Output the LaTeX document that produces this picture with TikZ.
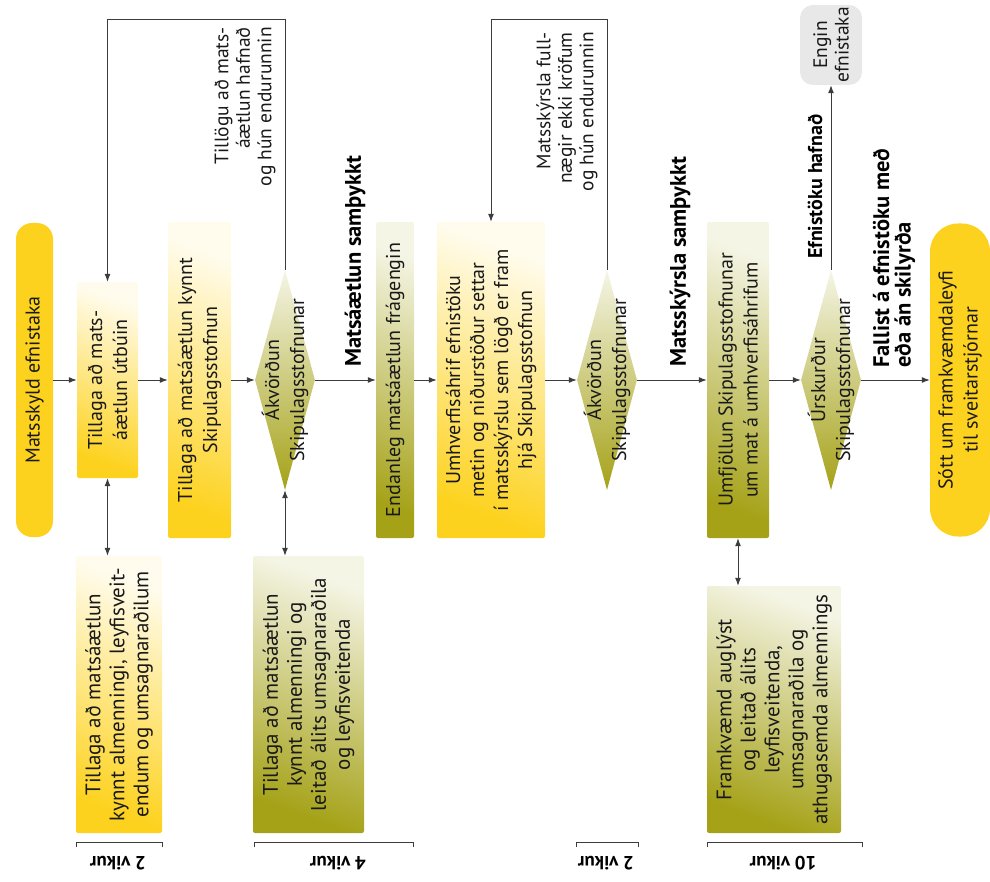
\documentclass[tikz,border=0pt]{standalone}
\usepackage{fontspec}
\setmainfont{PT Sans}
\usetikzlibrary{shapes.geometric, arrows.meta}
\definecolor{ylw}{RGB}{253,210,30}
\definecolor{ylwlight}{RGB}{255,252,238}
\definecolor{oliv}{RGB}{165,162,24}
\definecolor{olivlight}{RGB}{245,245,230}
\definecolor{ln}{RGB}{60,60,60}
\definecolor{gry}{RGB}{232,232,232}
\begin{document}
\begin{tikzpicture}[x=1pt,y=-1pt,
  ybox/.style={rectangle, rounded corners=2pt, inner sep=0pt, top color=ylwlight, bottom color=ylw, shading angle=-20},
  gbox/.style={rectangle, rounded corners=2pt, inner sep=0pt, top color=olivlight, bottom color=oliv, shading angle=-20},
  pill/.style={rectangle, rounded corners=16pt, inner sep=0pt, fill=ylw},
  dia/.style={diamond, inner sep=0pt, minimum width=60pt, minimum height=220pt, top color=olivlight, bottom color=oliv},
  ebox/.style={rectangle, rounded corners=13pt, inner sep=0pt, fill=gry, minimum width=62pt, minimum height=80pt},
  txt/.style={rotate=90, inner sep=0pt, align=center, text=black!90, font=\fontsize{20}{25}\selectfont},
  stxt/.style={rotate=90, inner sep=0pt, text=black!90, font=\fontsize{19.5}{21.5}\selectfont},
  btxt/.style={rotate=90, inner sep=0pt, anchor=west, align=left, text=black, font=\bfseries\fontsize{22.5}{21.5}\selectfont},
  vik/.style={rotate=180, inner sep=0pt, text=black, font=\bfseries\fontsize{19}{20}\selectfont},
  arr/.style={draw=ln, line width=1pt, -{Latex[length=8pt,width=6pt]}},
  darr/.style={draw=ln, line width=1pt, {Latex[length=8pt,width=6pt]}-{Latex[length=8pt,width=6pt]}},
  brk/.style={draw=ln, line width=1pt}
]
\useasboundingbox (0,0) rectangle (990,882);

% main row
\node[pill, minimum width=37pt, minimum height=314pt] (p1) at (34.5,380) {};
\node[txt] (p1t) at (p1) {Matsskyld efnistaka};

\node[ybox, minimum width=61pt, minimum height=196pt] (b2) at (107.5,380) {};
\node[txt] (b2t) at (b2) {Tillaga að mats-\\áætlun útbúin};

\node[ybox, minimum width=63pt, minimum height=316pt] (b3) at (199.5,380) {};
\node[txt] (b3t) at (b3) {Tillaga að matsáætlun kynnt\\Skipulagsstofnun};

\node[dia] (d1) at (285,380) {};
\node[txt] (d1t) at (d1) {Ákvörðun\\Skipulagsstofnunar};

\node[gbox, minimum width=38pt, minimum height=316pt] (b6) at (395,380) {};
\node[txt] (b6t) at (b6) {Endanleg matsáætlun frágengin};

\node[ybox, minimum width=108pt, minimum height=316pt] (b7) at (491,380) {};
\node[txt, font=\fontsize{20}{24}\selectfont] (b7t) at (b7) {Umhverfisáhrif efnistöku\\metin og niðurstöður settar\\í matsskýrslu sem lögð er fram\\hjá Skipulagsstofnun};

\node[dia] (d2) at (607,380) {};
\node[txt] (d2t) at (d2) {Ákvörðun\\Skipulagsstofnunar};

\node[gbox, minimum width=62pt, minimum height=316pt] (b10) at (738,380) {};
\node[txt] (b10t) at (b10) {Umfjöllun Skipulagsstofnunar\\um mat á umhverfisáhrifum};

\node[dia] (d3) at (831,380) {};
\node[txt] (d3t) at (d3) {Úrskurður\\Skipulagsstofnunar};

\node[rectangle, rounded corners=28pt, inner sep=0pt, fill=ylw, minimum width=60pt, minimum height=313pt] (p13) at (960,380) {};
\node[txt] (p13t) at (p13) {Sótt um framkvæmdaleyfi\\til sveitarstjórnar};

\node[ebox] (en) at (831,45) {};
\node[stxt, align=center] (ent) at (en) {Engin\\efnistaka};

% lower boxes
\node[ybox, minimum width=86pt, minimum height=277pt] (l1) at (119,694.5) {};
\node[txt, font=\fontsize{21}{24}\selectfont] (l1t) at (l1) {Tillaga að matsáætlun\\kynnt almenningi, leyfisveit-\\endum og umsagnaraðilum};

\node[gbox, minimum width=111pt, minimum height=277pt] (l2) at (308.5,694.5) {};
\node[txt, font=\fontsize{21}{24}\selectfont] (l2t) at (l2) {Tillaga að matsáætlun\\kynnt almenningi og\\leitað álits umsagnaraðila\\og leyfisveitenda};

\node[gbox, minimum width=134pt, minimum height=247pt] (l3) at (774,709.5) {};
\node[txt, font=\fontsize{21}{24}\selectfont] (l3t) at (l3) {Framkvæmd auglýst\\og leitað álits\\leyfisveitenda,\\umsagnaraðila og\\athugasemda almennings};

% main connectors
\draw[arr] (p1.east) -- (b2.west);
\draw[arr] (b2.east) -- (b3.west);
\draw[arr] (b3.east) -- (d1.west);
\draw[arr] (d1.east) -- (b6.west);
\draw[arr] (b6.east) -- (b7.west);
\draw[arr] (b7.east) -- (d2.west);
\draw[arr] (d2.east) -- (b10.west);
\draw[arr] (b10.east) -- (d3.west);
\draw[arr] (d3.east) -- (p13.west);
\draw[arr] (d3.north) -- (en.south);

% loops
\coordinate (t1) at (107.5,20);
\coordinate (t2) at (491,20);
\draw[arr] (d1.north) |- (t1) -- (b2.north);
\draw[arr] (d2.north) |- (t2) -- (b7.north);

% vertical double arrows
\draw[darr] (b2.south) -- (b2.south |- l1.north);
\draw[darr] (d1.south) -- (d1.south |- l2.north);
\draw[darr] (b10.south) -- (b10.south |- l3.north);

% labels
\node[stxt, anchor=east, align=right] (lab1) at (245,27) {Tillögu að mats-\\áætlun hafnað\\og hún endurunnin};
\node[stxt, anchor=east, align=right] (lab2) at (567,32) {Matsskýrsla full-\\nægir ekki kröfum\\og hún endurunnin};
\node[btxt] (lab3) at (355,367) {Matsáætlun samþykkt};
\node[btxt] (lab4) at (680,367) {Matsskýrsla samþykkt};
\node[btxt, font=\bfseries\fontsize{20}{21.5}\selectfont] (lab5) at (815,259) {Efnistöku hafnað};
\node[btxt] (lab6) at (894,368) {Fallist á efnistöku með\\eða án skilyrða};

% brackets
\draw[brk] (76,847) -- (76,842) -- (162,842) -- (162,847);
\draw[brk] (254,847) -- (254,842) -- (413,842) -- (413,847);
\draw[brk] (576,847) -- (576,842) -- (638,842) -- (638,847);
\draw[brk] (707,847) -- (707,842) -- (862,842) -- (862,847);
\node[vik] (v1) at (118,863) {2 vikur};
\node[vik] (v2) at (338,863) {4 vikur};
\node[vik] (v3) at (606,863) {2 vikur};
\node[vik] (v4) at (783,863) {10 vikur};
\end{tikzpicture}
\end{document}
